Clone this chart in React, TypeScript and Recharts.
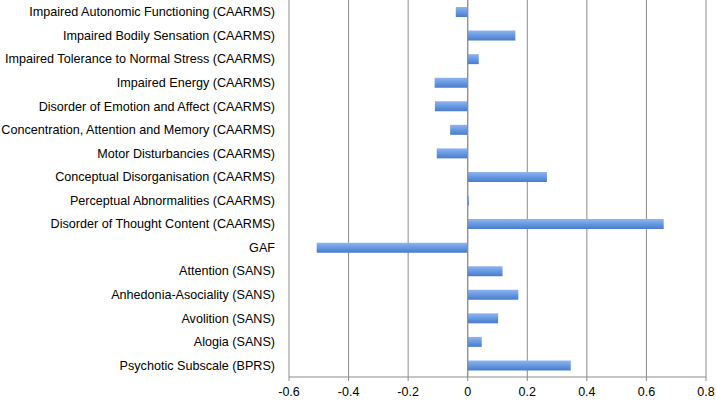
import React from 'react'
import {
  BarChart,
  Bar,
  XAxis,
  YAxis,
  CartesianGrid,
  ReferenceLine
} from 'recharts'

const categories: string[] = [
  'Impaired Autonomic Functioning (CAARMS)',
  'Impaired Bodily Sensation (CAARMS)',
  'Impaired Tolerance to Normal Stress (CAARMS)',
  'Impaired Energy (CAARMS)',
  'Disorder of Emotion and Affect (CAARMS)',
  'Concentration, Attention and Memory (CAARMS)',
  'Motor Disturbancies (CAARMS)',
  'Conceptual Disorganisation (CAARMS)',
  'Perceptual Abnormalities (CAARMS)',
  'Disorder of Thought Content (CAARMS)',
  'GAF',
  'Attention (SANS)',
  'Anhedonia-Asociality (SANS)',
  'Avolition (SANS)',
  'Alogia (SANS)',
  'Psychotic Subscale (BPRS)'
]

const values: number[] = [
  -0.04, 0.16, 0.037, -0.111, -0.11, -0.059, -0.104, 0.266, 0.004, 0.658,
  -0.507, 0.117, 0.17, 0.102, 0.047, 0.346
]

const xTicks: number[] = [-0.6, -0.4, -0.2, 0, 0.2, 0.4, 0.6, 0.8]

const rows = categories.map((name, i) => ({ name, value: values[i] }))

const font = '"Liberation Sans", Arial, sans-serif'

// plain one-line label, recharts would wrap long ones otherwise
const CategoryTick = (props: any) => {
  const { x, y, payload } = props
  return (
    <text
      x={x}
      y={y}
      dy={4.5}
      textAnchor="end"
      fill="#000"
      fontSize={12.6}
      fontFamily={font}
    >
      {payload.value}
    </text>
  )
}

const App = () => {
  return (
    <div
      style={{
        position: 'absolute',
        left: 0,
        top: 0,
        width: 716,
        height: 401,
        background: '#fff'
      }}
    >
      <BarChart
        width={716}
        height={401}
        data={rows}
        layout="vertical"
        margin={{ top: 0, right: 10, left: 0, bottom: 0 }}
      >
        <defs>
          <linearGradient id="barFill" x1="0" y1="0" x2="0" y2="1">
            <stop offset="0%" stopColor="#8fb6ef" />
            <stop offset="45%" stopColor="#6b9be3" />
            <stop offset="100%" stopColor="#4a7ccc" />
          </linearGradient>
        </defs>
        <CartesianGrid horizontal={false} stroke="#8c8c8c" />
        <XAxis
          type="number"
          domain={[-0.6, 0.8]}
          ticks={xTicks}
          height={24}
          stroke="#8c8c8c"
          tickSize={4}
          tickMargin={6}
          tick={{ fill: '#000', fontSize: 12.5, fontFamily: font }}
        />
        <YAxis
          type="category"
          dataKey="name"
          width={289}
          axisLine={false}
          tickLine={false}
          tickSize={0}
          tickMargin={14}
          interval={0}
          tick={<CategoryTick />}
        />
        <ReferenceLine x={0} stroke="#8c8c8c" />
        <Bar
          dataKey="value"
          fill="url(#barFill)"
          barSize={10}
          isAnimationActive={false}
        />
      </BarChart>
    </div>
  )
}

export default App
